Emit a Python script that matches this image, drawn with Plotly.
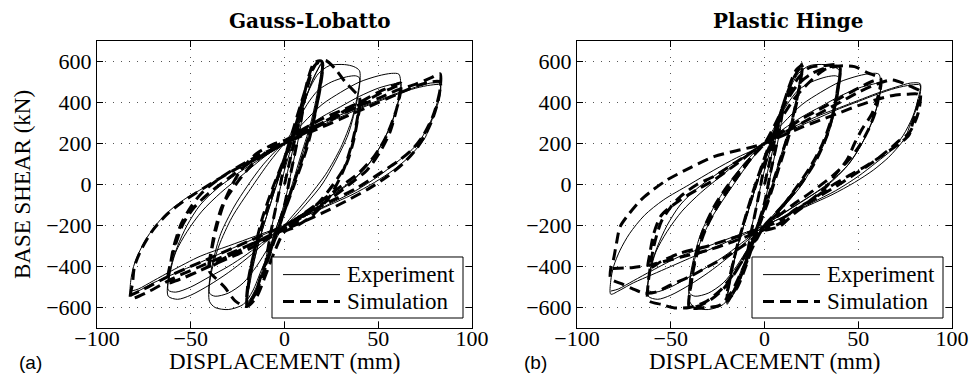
import plotly.graph_objects as go

# ---------------- data (mm, kN) ----------------
x_ticks = [-100, -50, 0, 50, 100]
y_ticks = [-600, -400, -200, 0, 200, 400, 600]
panel_titles = ["Gauss-Lobatto", "Plastic Hinge"]
panel_tags = ["(a)", "(b)"]
legend_names = ["Experiment", "Simulation"]

# experiment (same test in both panels)
exp_pts = [
    (0, 0), (5, 190), (10, 370),
    (8, 250), (4, 80), (0, -90), (-5, -230), (-10, -380),
    (-8, -260), (-4, -90), (0, 70), (5, 220), (10, 380),
    (15, 510), (20, 595),
    (18, 470), (14, 300), (8, 120), (2, -60), (-4, -200), (-10, -370), (-15, -500), (-20, -585),
    (-18, -460), (-14, -290), (-8, -110), (-2, 60), (4, 210), (10, 380), (15, 510), (20, 590),
    (18, 450), (14, 280), (8, 100), (2, -80), (-4, -220), (-10, -390), (-15, -510), (-20, -575),
    (-18, -440), (-13, -260), (-7, -80), (0, 120), (6, 290), (12, 440), (18, 540), (24, 580), (32, 585), (37, 575), (40, 555),
    (40, 480), (38, 380), (34, 245), (27, 110), (20, 0), (12, -90), (4, -170), (0, -200), (-6, -290), (-12, -410),
    (-17, -520), (-22, -585), (-30, -610), (-37, -600), (-40, -570),
    (-40, -470), (-38, -370), (-34, -240), (-27, -110), (-20, -10), (-12, 90), (-4, 170), (0, 200), (6, 290), (12, 390),
    (18, 460), (25, 500), (33, 525), (38, 530), (40, 520),
    (39, 440), (36, 320), (30, 180), (22, 50), (12, -70), (0, -200), (-8, -300), (-15, -400), (-22, -480), (-30, -530),
    (-37, -545), (-40, -530),
    (-39, -430), (-35, -300), (-28, -160), (-18, -20), (-8, 110), (0, 200), (10, 300), (20, 390), (30, 450), (40, 500),
    (50, 530), (57, 542), (61, 538),
    (62, 470), (60, 380), (57, 300), (52, 200), (45, 100), (36, 20), (24, -60), (12, -130), (0, -200), (-10, -280),
    (-20, -360), (-30, -430), (-40, -490), (-50, -540), (-57, -560), (-62, -545),
    (-62, -460), (-60, -380), (-57, -300), (-52, -200), (-45, -100), (-36, -20), (-24, 60), (-12, 130), (0, 200), (10, 270),
    (20, 330), (30, 380), (40, 430), (50, 470), (58, 490), (62, 495),
    (61, 420), (58, 320), (52, 200), (44, 90), (34, 0), (22, -70), (10, -140), (0, -200), (-10, -270), (-20, -340),
    (-30, -400), (-40, -450), (-50, -500), (-58, -525), (-62, -515),
    (-61, -430), (-58, -330), (-52, -230), (-44, -130), (-34, -40), (-22, 50), (-10, 140), (0, 200), (10, 255), (20, 300),
    (30, 340), (40, 375), (50, 410), (60, 445), (70, 475), (78, 495), (83, 492),
    (83, 440), (81, 370), (78, 300), (75, 228), (70, 170), (66, 131), (58, 70), (48, 10), (36, -50), (24, -100), (12, -150),
    (0, -200), (-10, -240), (-20, -280), (-30, -320), (-40, -360), (-50, -400), (-60, -440), (-70, -480), (-77, -515), (-82, -535),
    (-82, -470), (-80.5, -400), (-77, -320), (-72, -240), (-64, -150), (-54, -76), (-40, 0), (-27, 70), (-15, 130), (-6, 168),
    (0, 200), (10, 250), (20, 290), (30, 330), (40, 370), (50, 405), (60, 440), (70, 470), (78, 485), (83, 485),
    (82, 420), (79, 330), (74, 240), (68, 170), (60, 110), (50, 40), (38, -30), (25, -90), (12, -150), (0, -200), (-15, -250),
    (-30, -300), (-45, -350), (-60, -420), (-70, -470), (-78, -510), (-82, -520),
]

# simulation, Gauss-Lobatto integration
sim_gl_pts = [
    (0, 0), (5, 200), (10, 380),
    (7, 220), (3, 40), (0, -100), (-5, -250), (-10, -390),
    (-7, -220), (-3, -40), (0, 100), (5, 250), (10, 390),
    (13, 500), (16, 580), (20, 600),
    (19, 480), (16, 330), (12, 180), (6, 20), (0, -130), (-6, -280), (-12, -430), (-16, -540), (-20, -590),
    (-19, -470), (-16, -320), (-12, -170), (-6, -10), (0, 130), (6, 290), (10, 420), (13, 530), (16, 595), (20, 600),
    (19, 470), (15, 300), (10, 140), (4, -20), (0, -130), (-6, -290), (-12, -450), (-17, -560), (-20, -590),
    (-19, -450), (-15, -290), (-10, -140), (-5, 0), (0, 130), (5, 280), (10, 430), (14, 540), (18, 600), (22, 605),
    (27, 565), (32, 505), (37, 456), (40, 425),
    (39, 330), (36, 200), (31, 60), (24, -60), (15, -150), (5, -210), (0, -230), (-5, -320), (-10, -440), (-15, -550),
    (-20, -595), (-26, -570), (-32, -500), (-37, -455), (-40, -425),
    (-39, -330), (-36, -200), (-31, -60), (-24, 60), (-15, 150), (-5, 200), (0, 215), (10, 260), (20, 300), (30, 350), (40, 390),
    (39, 320), (37, 220), (33, 100), (26, 0), (18, -90), (8, -170), (0, -215), (-10, -260), (-20, -300), (-30, -350), (-40, -400),
    (-39, -320), (-37, -220), (-33, -100), (-26, 0), (-18, 90), (-8, 170), (0, 210), (10, 270), (20, 320), (30, 360), (40, 400),
    (50, 450), (60, 490), (62, 495),
    (61, 420), (59, 340), (56, 250), (51, 160), (44, 70), (36, 10), (26, -60), (14, -130), (0, -215), (-10, -270), (-20, -320),
    (-30, -360), (-40, -400), (-50, -440), (-58, -470), (-62, -480),
    (-61, -400), (-59, -300), (-55, -190), (-50, -110), (-44, -40), (-36, 20), (-26, 80), (-14, 140), (0, 200), (10, 250),
    (20, 300), (30, 350), (40, 390), (50, 440), (60, 480), (62, 485),
    (61, 410), (58, 320), (54, 230), (48, 140), (40, 60), (30, -10), (18, -90), (6, -170), (0, -210), (-15, -280), (-30, -350),
    (-45, -420), (-55, -460), (-62, -475),
    (-61, -390), (-58, -290), (-54, -190), (-48, -110), (-40, -40), (-30, 30), (-18, 110), (-6, 170), (0, 200), (15, 270),
    (30, 340), (40, 385), (50, 420), (60, 460), (70, 490), (78, 520), (83, 540),
    (83, 470), (82, 410), (79, 320), (75, 240), (70, 170), (63, 100), (55, 40), (45, -20), (33, -80), (20, -140), (8, -190),
    (0, -220), (-15, -280), (-30, -340), (-45, -400), (-60, -460), (-72, -520), (-82, -555),
    (-81, -480), (-80, -400), (-76, -310), (-70, -220), (-62, -140), (-52, -70), (-40, 0), (-27, 70), (-14, 130), (0, 200),
    (15, 260), (30, 320), (45, 380), (60, 440), (70, 480), (78, 500), (83, 500),
    (82, 420), (79, 330), (74, 240), (68, 170), (60, 110), (50, 50), (38, -20), (25, -80), (12, -140), (0, -200), (-20, -280),
    (-40, -360), (-60, -440), (-75, -510), (-82, -540),
]

# simulation, plastic hinge integration
sim_ph_pts = [
    (0, 0), (5, 200), (10, 380),
    (7, 220), (3, 50), (0, -90), (-5, -240), (-10, -390),
    (-7, -230), (-3, -50), (0, 90), (5, 240), (10, 390),
    (14, 500), (17, 560), (20, 580),
    (18, 450), (14, 290), (8, 110), (2, -60), (-4, -210), (-10, -380), (-15, -500), (-20, -570),
    (-18, -440), (-14, -280), (-8, -100), (-2, 70), (4, 220), (10, 390), (15, 510), (20, 580),
    (18, 440), (14, 270), (8, 90), (2, -80), (-4, -230), (-10, -400), (-15, -510), (-20, -565),
    (-18, -430), (-13, -250), (-7, -60), (0, 130), (6, 280), (12, 420), (18, 520), (24, 570), (32, 580), (40, 580),
    (39, 470), (37, 360), (33, 230), (27, 110), (20, 10), (12, -80), (4, -160), (0, -200), (-6, -300), (-12, -420),
    (-18, -530), (-24, -590), (-32, -600), (-40, -600),
    (-39, -480), (-37, -360), (-33, -230), (-27, -110), (-20, -10), (-12, 80), (-4, 160), (0, 200), (6, 300), (12, 410),
    (18, 490), (25, 540), (33, 570), (40, 575),
    (39, 460), (36, 330), (31, 200), (24, 80), (15, -40), (6, -150), (0, -200), (-8, -310), (-15, -420), (-22, -510),
    (-30, -570), (-36, -595), (-40, -600),
    (-39, -470), (-36, -340), (-31, -210), (-24, -90), (-15, 30), (-6, 140), (0, 200), (8, 310), (16, 420), (24, 500),
    (32, 560), (40, 578), (48, 575), (55, 545), (62, 515),
    (61, 450), (60, 412), (57, 340), (52, 270), (48, 200), (44, 120), (38, 50), (33, -10), (24, -80), (14, -140), (5, -190),
    (0, -210), (-8, -320), (-16, -430), (-24, -520), (-32, -575), (-40, -600), (-48, -602), (-55, -585), (-62, -565),
    (-62, -480), (-61, -410), (-59, -300), (-55, -180), (-50, -110), (-45, -60), (-36, 0), (-27, 40), (-15, 110), (-5, 170),
    (0, 200), (10, 260), (20, 320), (30, 370), (40, 420), (50, 470), (58, 505), (62, 510),
    (61, 430), (59, 350), (55, 260), (50, 180), (44, 110), (36, 40), (26, -30), (15, -100), (5, -170), (0, -205),
    (-9.5, -238), (-20, -270), (-30, -300), (-45, -335), (-55, -375), (-62, -410),
    (-61, -330), (-59, -238), (-55, -150), (-45, -76), (-35, -20), (-27, 22), (-15, 100), (-5, 170), (0, 200), (10, 250),
    (20, 300), (30, 350), (40, 400), (50, 450), (60, 490), (68, 510), (75, 490), (80, 470), (83, 455),
    (83, 400), (82, 350), (80, 300), (77, 250), (72, 215), (65, 160), (58, 110), (48, 50), (38, -10), (26, -76), (16, -140),
    (8, -205), (0, -225), (-10, -290), (-20, -350), (-30, -400), (-40, -450), (-50, -490), (-58, -525), (-64, -530),
    (-70, -510), (-76, -485), (-82, -460),
    (-82, -410), (-80.6, -368), (-79, -290), (-77, -206), (-72, -140), (-66, -76), (-60, -30), (-52, 22), (-40, 80),
    (-27, 136), (-15, 165), (-6, 184), (0, 200), (10, 240), (20, 280), (30, 315), (40, 350), (50, 385), (60, 415),
    (70, 437), (76, 440), (82, 440),
    (82, 400), (81, 363), (79, 300), (77, 240), (72, 200), (65, 155), (55, 95), (44, 38), (35, -10), (26, -70), (15, -130),
    (8, -190), (0, -220), (-10, -255), (-20, -290), (-30, -320), (-45, -355), (-60, -390), (-70, -405), (-82, -410),
]

# ---------------- figure ----------------
W, H = 971, 389
PX_L = [97, 577]
PX_R = [472, 952]
PY_T, PY_B = 41, 328

SERIF = "Liberation Serif"
fig = go.Figure()

sims = [sim_gl_pts, sim_ph_pts]
for i in range(2):
    xa = "x" if i == 0 else "x2"
    ya = "y" if i == 0 else "y2"
    fig.add_trace(go.Scatter(
        x=[p[0] for p in exp_pts], y=[p[1] for p in exp_pts], xaxis=xa, yaxis=ya,
        mode="lines", name=legend_names[0], showlegend=False, hoverinfo="skip",
        line=dict(color="black", width=1, shape="spline", smoothing=0.8)))
    fig.add_trace(go.Scatter(
        x=[p[0] for p in sims[i]], y=[p[1] for p in sims[i]], xaxis=xa, yaxis=ya,
        mode="lines", name=legend_names[1], showlegend=False, hoverinfo="skip",
        line=dict(color="black", width=3, dash="11px,6px", shape="spline", smoothing=0.8)))


def axis_common():
    return dict(showline=True, linecolor="black", linewidth=1, mirror="ticks",
                ticks="inside", ticklen=6, tickcolor="black", tickwidth=1,
                showgrid=True, gridcolor="#555555", gridwidth=1, griddash="1px,7px",
                zeroline=False, automargin=False,
                tickfont=dict(family=SERIF, size=22, color="black"))


layout = dict(width=W, height=H, margin=dict(l=0, r=0, t=0, b=0, pad=0, autoexpand=False),
              autosize=False, paper_bgcolor="white", plot_bgcolor="white", showlegend=False)
for i in range(2):
    sx = "" if i == 0 else "2"
    xd = [PX_L[i] / W, PX_R[i] / W]
    yd = [1 - PY_B / H, 1 - PY_T / H]
    xa = axis_common()
    xa.update(domain=xd, range=[-100, 100], tickvals=x_ticks, anchor="y" + sx, ticklabelstandoff=-9)
    ya = axis_common()
    ya.update(domain=yd, range=[-700, 700], tickvals=y_ticks, anchor="x" + sx)
    layout["xaxis" + sx] = xa
    layout["yaxis" + sx] = ya
fig.update_layout(**layout)

ann = []
shapes = []
title_cx = [310, 788]
tag_cx = [30, 535]
for i in range(2):
    sx = "" if i == 0 else "2"
    cx = (PX_L[i] + PX_R[i]) / 2
    ann.append(dict(text="<b>" + panel_titles[i] + "</b>", x=title_cx[i] / W, y=1 - 21 / H,
                    xref="paper", yref="paper", showarrow=False, xanchor="center", yanchor="middle",
                    font=dict(family="DejaVu Serif", size=20, color="black")))
    ann.append(dict(text="DISPLACEMENT (mm)", x=cx / W, y=1 - 361 / H, xref="paper", yref="paper",
                    showarrow=False, xanchor="center", yanchor="middle",
                    font=dict(family=SERIF, size=23, color="black")))
    ann.append(dict(text=panel_tags[i], x=tag_cx[i] / W, y=1 - 362 / H, xref="paper", yref="paper",
                    showarrow=False, xanchor="center", yanchor="middle",
                    font=dict(family="Liberation Sans", size=19, color="black")))
    # legend box
    xr = "x" + sx + " domain"
    yr = "y" + sx + " domain"
    shapes.append(dict(type="rect", xref=xr, yref=yr, x0=0.4667, x1=0.976, y0=0.0348, y1=0.2474,
                       fillcolor="white", line=dict(color="black", width=1), layer="above"))
    shapes.append(dict(type="line", xref=xr, yref=yr, x0=0.496, x1=0.648, y0=0.186, y1=0.186,
                       line=dict(color="black", width=1), layer="above"))
    shapes.append(dict(type="line", xref=xr, yref=yr, x0=0.496, x1=0.648, y0=0.092, y1=0.092,
                       line=dict(color="black", width=3, dash="11px,6px"), layer="above"))
    for name, yy in zip(legend_names, [0.186, 0.092]):
        ann.append(dict(text=name, x=0.662, y=yy, xref=xr, yref=yr, showarrow=False,
                        xanchor="left", yanchor="middle",
                        font=dict(family=SERIF, size=23, color="black")))

ann.append(dict(text="BASE SHEAR (kN)", x=23 / W, y=1 - 185 / H, xref="paper", yref="paper",
                showarrow=False, textangle=-90, xanchor="center", yanchor="middle",
                font=dict(family=SERIF, size=23, color="black")))
fig.update_layout(annotations=ann, shapes=shapes)

fig.write_html("out.html", config={"responsive": False, "displayModeBar": False},
               post_script="document.body.style.margin='0';document.body.style.padding='0';")
